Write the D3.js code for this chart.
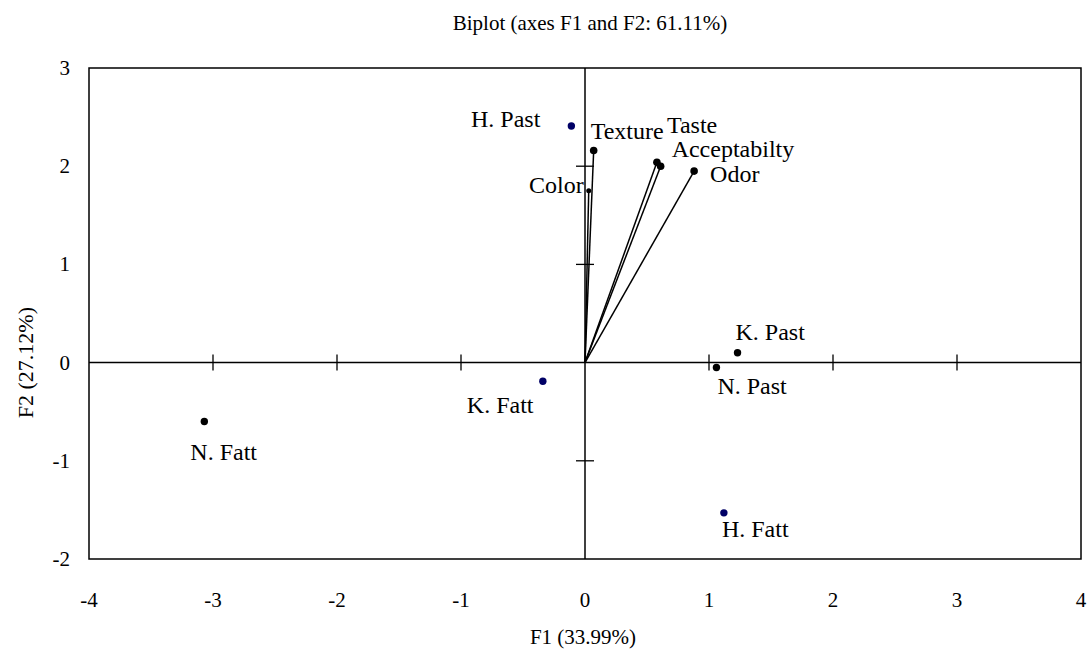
<!DOCTYPE html>
<html><head><meta charset="utf-8">
<script src="https://cdn.jsdelivr.net/npm/d3@7"></script>
<style>body{margin:0;background:#fff}svg{display:block}text{font-family:"Liberation Serif","DejaVu Serif",serif;fill:#000}</style>
</head><body><svg id="c" width="1092" height="650"></svg>
<script>
// Observations (product scores)
const obsNames = ["H. Past","K. Past","N. Past","N. Fatt","K. Fatt","H. Fatt"];
const obsF1 = [-0.11, 1.23, 1.06, -3.07, -0.34, 1.12];
const obsF2 = [2.41, 0.10, -0.05, -0.60, -0.19, -1.53];
// Variables (loading vectors)
const varNames = ["Texture","Taste","Acceptabilty","Odor","Color"];
const varF1 = [0.07, 0.58, 0.61, 0.88, 0.03];
const varF2 = [2.16, 2.04, 2.00, 1.95, 1.75];
// Ticks
const xTicks = [-4,-3,-2,-1,0,1,2,3,4];
const yTicks = [-2,-1,0,1,2,3];

// layout (label offsets in px)
const obsLabelDx = [-31, -2, 1, -14, -76, -2];
const obsLabelDy = [1, -13, 26, 38, 32, 24];
const obsColor = ["#000066","#000","#000","#000","#000066","#000066"];
const varLabelDx = [-3, 10, 11, 16, -5];
const varLabelDy = [-11, -29, -9, 11, 2];
const varAnchor = ["start","start","start","start","end"];

const svg = d3.select("#c");
const L=89,R=1081,T=68,B=559;
const x = d3.scaleLinear().domain([-4,4]).range([L,R]);
const y = d3.scaleLinear().domain([-2,3]).range([B,T]);

svg.append("rect").attr("x",L).attr("y",T).attr("width",R-L).attr("height",B-T)
  .attr("fill","none").attr("stroke","#000").attr("stroke-width",1.5);

// center axes
svg.append("line").attr("x1",L).attr("x2",R).attr("y1",y(0)).attr("y2",y(0)).attr("stroke","#000").attr("stroke-width",1.5);
svg.append("line").attr("x1",x(0)).attr("x2",x(0)).attr("y1",T).attr("y2",B).attr("stroke","#000").attr("stroke-width",1.5);

// cross ticks
svg.selectAll(".xt").data(xTicks.filter(d=>d!==0 && d!==-4 && d!==4)).join("line")
  .attr("x1",d=>x(d)).attr("x2",d=>x(d)).attr("y1",y(0)-8).attr("y2",y(0)+8).attr("stroke","#000").attr("stroke-width",1.3);
svg.selectAll(".yt").data(yTicks.filter(d=>d!==0 && d!==-2 && d!==3)).join("line")
  .attr("y1",d=>y(d)).attr("y2",d=>y(d)).attr("x1",x(0)-9).attr("x2",x(0)+9).attr("stroke","#000").attr("stroke-width",1.3);

// tick labels
svg.selectAll(".xl").data(xTicks).join("text")
  .attr("x",d=>x(d)).attr("y",607).attr("text-anchor","middle").attr("font-size",21).text(d=>d);
svg.selectAll(".yl").data(yTicks).join("text")
  .attr("x",70).attr("y",d=>y(d)+7).attr("text-anchor","end").attr("font-size",21).text(d=>d);

// titles
svg.append("text").attr("x",x(0)+5).attr("y",30).attr("text-anchor","middle").attr("font-size",21).text("Biplot (axes F1 and F2: 61.11%)");
svg.append("text").attr("x",x(0)-2).attr("y",644).attr("text-anchor","middle").attr("font-size",21).text("F1 (33.99%)");
svg.append("text").attr("transform",`translate(33,${y(0)}) rotate(-90)`).attr("text-anchor","middle").attr("font-size",22).text("F2 (27.12%)");

// vectors
const vars = varNames.map((n,i)=>({n,f1:varF1[i],f2:varF2[i],i}));
svg.selectAll(".vl").data(vars).join("line")
  .attr("x1",x(0)).attr("y1",y(0)).attr("x2",d=>x(d.f1)).attr("y2",d=>y(d.f2))
  .attr("stroke","#000").attr("stroke-width",1.5);
svg.selectAll(".vp").data(vars).join("circle")
  .attr("cx",d=>x(d.f1)).attr("cy",d=>y(d.f2)).attr("r",d=>d.n==="Color"?2.5:3.8).attr("fill","#000");
svg.selectAll(".vt").data(vars).join("text")
  .attr("x",d=>x(d.f1)+varLabelDx[d.i]).attr("y",d=>y(d.f2)+varLabelDy[d.i])
  .attr("text-anchor",d=>varAnchor[d.i]).attr("font-size",24).text(d=>d.n);

// observations
const obs = obsNames.map((n,i)=>({n,f1:obsF1[i],f2:obsF2[i],i}));
svg.selectAll(".op").data(obs).join("circle")
  .attr("cx",d=>x(d.f1)).attr("cy",d=>y(d.f2)).attr("r",3.7).attr("fill",d=>obsColor[d.i]);
svg.selectAll(".ot").data(obs).join("text")
  .attr("x",d=>x(d.f1)+obsLabelDx[d.i]).attr("y",d=>y(d.f2)+obsLabelDy[d.i])
  .attr("text-anchor",d=>d.i===0?"end":"start").attr("font-size",24).text(d=>d.n);
</script></body></html>
